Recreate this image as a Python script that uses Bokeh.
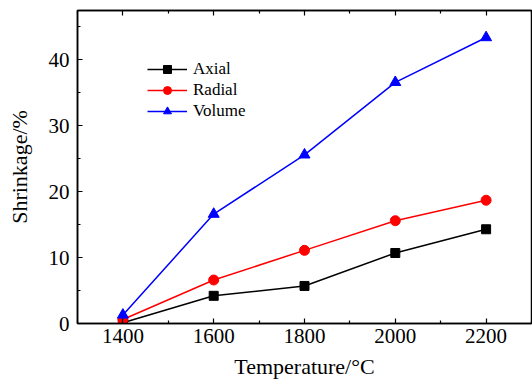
from bokeh.plotting import figure
from bokeh.models import FixedTicker, LinearAxis, Legend, LegendItem, Range1d, CustomJSTickFormatter
from bokeh.embed import file_html
from bokeh.resources import INLINE

temperature = [1400, 1600, 1800, 2000, 2200]
axial = [0.1, 4.2, 5.7, 10.7, 14.3]
radial = [0.6, 6.6, 11.1, 15.6, 18.7]
volume = [1.3, 16.6, 25.6, 36.6, 43.4]
x_ticks = [1400, 1600, 1800, 2000, 2200]
y_ticks = [0, 10, 20, 30, 40]

FONT = "Liberation Serif"

p = figure(width=532, height=385, output_backend="svg", toolbar_location=None,
           x_range=Range1d(1300, 2300), y_range=Range1d(0, 47.5),
           min_border_left=77, min_border_right=1, min_border_top=10, min_border_bottom=62)
p.grid.visible = False
p.outline_line_color = "black"
p.outline_line_width = 1.5

r_axial_l = p.line(temperature, axial, line_color="black", line_width=1.5)
r_axial_m = p.scatter(temperature, axial, marker="square", size=9, color="black")
r_radial_l = p.line(temperature, radial, line_color="red", line_width=1.5)
r_radial_m = p.scatter(temperature, radial, marker="circle", size=10, color="red")
r_vol_l = p.line(temperature, volume, line_color="blue", line_width=1.5)
r_vol_m = p.scatter(temperature, volume, marker="triangle", size=11, color="blue")

def style(ax):
    ax.axis_line_color = "black"
    ax.axis_line_width = 1.5
    ax.major_tick_in = 5
    ax.major_tick_out = 0
    ax.minor_tick_in = 3
    ax.minor_tick_out = 0
    ax.major_tick_line_color = "black"
    ax.minor_tick_line_color = "black"
    ax.major_tick_line_width = 1.2
    ax.minor_tick_line_width = 1.2
    ax.major_label_text_font = FONT
    ax.major_label_text_font_size = "21px"
    ax.major_label_text_color = "black"
    ax.axis_label_text_font = FONT
    ax.axis_label_text_font_size = "22px"
    ax.axis_label_text_font_style = "normal"
    ax.axis_label_text_color = "black"

xt = FixedTicker(ticks=x_ticks, minor_ticks=[1300, 1500, 1700, 1900, 2100, 2300])
yt = FixedTicker(ticks=y_ticks, minor_ticks=[5, 15, 25, 35, 45])

p.xaxis.ticker = xt
p.yaxis.ticker = yt
p.xaxis.axis_label = "Temperature/°C"
p.yaxis.axis_label = "Shrinkage/%"
style(p.xaxis[0])
style(p.yaxis[0])
p.xaxis.major_label_standoff = 5
p.xaxis.axis_label_standoff = 8
p.yaxis.major_label_standoff = 8
p.yaxis.axis_label_standoff = 14

top = LinearAxis(ticker=xt, formatter=CustomJSTickFormatter(code="return ''"))
style(top)
top.major_label_standoff = 0
p.add_layout(top, "above")

legend = Legend(items=[
    LegendItem(label="Axial", renderers=[r_axial_l, r_axial_m]),
    LegendItem(label="Radial", renderers=[r_radial_l, r_radial_m]),
    LegendItem(label="Volume", renderers=[r_vol_l, r_vol_m]),
], location=(70, 202))
legend.glyph_width = 40
legend.glyph_height = 20
legend.label_height = 20
legend.spacing = 1
legend.padding = 0
legend.margin = 0
legend.label_standoff = 6
legend.border_line_alpha = 0
legend.background_fill_alpha = 0
legend.label_text_font = FONT
legend.label_text_font_size = "17px"
legend.label_text_color = "black"
p.add_layout(legend, "center")

open("out.html", "w").write(file_html(p, INLINE))
